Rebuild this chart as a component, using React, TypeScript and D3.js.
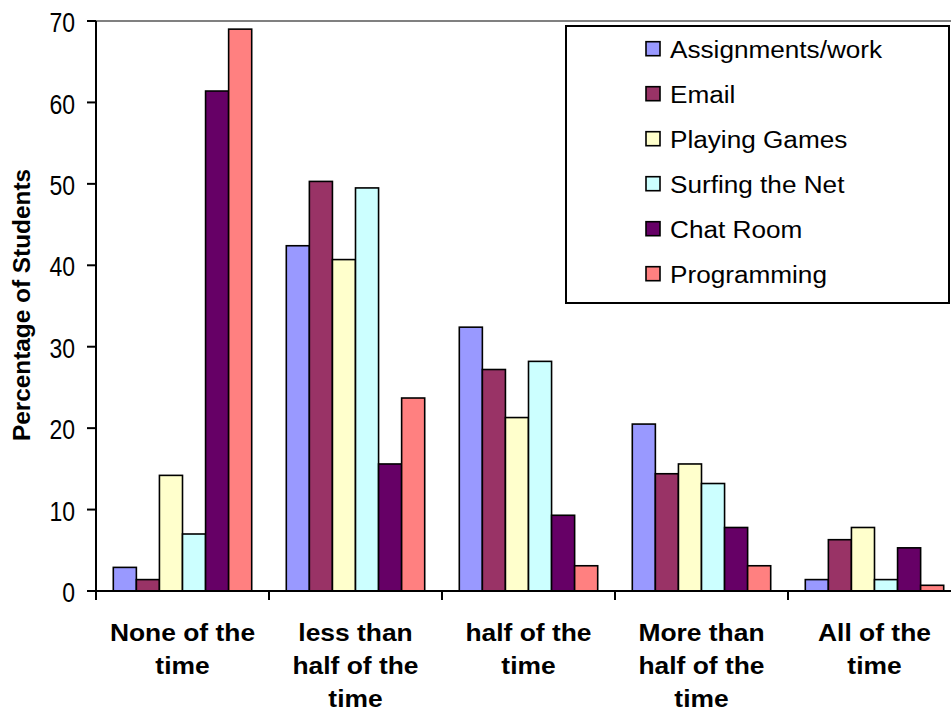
import React from "react";
import * as d3 from "d3";

// Survey: how often students use the computer for each activity
const categories: string[][] = [
  ["None of the", "time"],
  ["less than", "half of the", "time"],
  ["half of the", "time"],
  ["More than", "half of the", "time"],
  ["All of the", "time"],
];

const seriesNames = [
  "Assignments/work",
  "Email",
  "Playing Games",
  "Surfing the Net",
  "Chat Room",
  "Programming",
];

const assignments = [2.9, 42.4, 32.4, 20.5, 1.4];
const email = [1.4, 50.3, 27.2, 14.4, 6.3];
const games = [14.2, 40.7, 21.3, 15.6, 7.8];
const surfing = [7.0, 49.5, 28.2, 13.2, 1.4];
const chatRoom = [61.4, 15.6, 9.3, 7.8, 5.3];
const programming = [69.0, 23.7, 3.1, 3.1, 0.7];

const seriesValues = [assignments, email, games, surfing, chatRoom, programming];
const seriesColors = ["#9999FF", "#993366", "#FFFFCC", "#CCFFFF", "#660066", "#FF8080"];

const yTicks = [0, 10, 20, 30, 40, 50, 60, 70];
const yTitle = "Percentage of Students";

const W = 951;
const H = 711;
const plot = { left: 96, right: 961, top: 21, bottom: 591 };
const FONT = "'Liberation Sans', Arial, sans-serif";

export default function App() {
  const catKeys = categories.map((_, i) => String(i));
  const x0 = d3
    .scaleBand<string>()
    .domain(catKeys)
    .range([plot.left, plot.right])
    .padding(0);
  const x1 = d3
    .scaleBand<string>()
    .domain(seriesNames)
    .range([0, x0.bandwidth()])
    .paddingInner(0)
    .paddingOuter(0.75);
  const y = d3.scaleLinear().domain([0, 70]).range([plot.bottom, plot.top]);

  const legend = { x: 566, y: 26, w: 383, h: 277 };
  const legendRow = 45;

  return (
    <div style={{ position: "absolute", left: 0, top: 0, width: W, height: H, overflow: "hidden", background: "#fff" }}>
      <svg width={W} height={H} style={{ display: "block" }}>
        {/* plot area frame */}
        <rect
          x={plot.left}
          y={plot.top}
          width={plot.right - plot.left}
          height={plot.bottom - plot.top}
          fill="none"
          stroke="#808080"
          strokeWidth={2}
        />

        {/* bars */}
        {seriesNames.map((name, si) =>
          seriesValues[si].map((v, ci) => {
            const bx = (x0(String(ci)) ?? 0) + (x1(name) ?? 0);
            return (
              <rect
                key={`${si}-${ci}`}
                x={bx}
                y={y(v)}
                width={x1.bandwidth()}
                height={y(0) - y(v)}
                fill={seriesColors[si]}
                stroke="#000"
                strokeWidth={1.6}
              />
            );
          })
        )}

        {/* y axis */}
        <line x1={plot.left} x2={plot.left} y1={plot.top} y2={plot.bottom} stroke="#000" strokeWidth={2} />
        {yTicks.map((t) => (
          <g key={t}>
            <line x1={plot.left - 9} x2={plot.left} y1={y(t)} y2={y(t)} stroke="#000" strokeWidth={2} />
            <text
              transform={`translate(75,${y(t) + 1.5}) scale(1,1.17)`}
              dy="0.36em"
              textAnchor="end"
              fontFamily={FONT}
              fontSize={23}
              fill="#000"
            >
              {t}
            </text>
          </g>
        ))}

        {/* x axis */}
        <line x1={plot.left} x2={plot.right} y1={plot.bottom} y2={plot.bottom} stroke="#000" strokeWidth={2} />
        {catKeys.map((k) => (
          <line
            key={k}
            x1={x0(k) ?? 0}
            x2={x0(k) ?? 0}
            y1={plot.bottom}
            y2={plot.bottom + 9}
            stroke="#000"
            strokeWidth={2}
          />
        ))}
        {categories.map((lines, ci) => {
          const cx = (x0(String(ci)) ?? 0) + x0.bandwidth() / 2;
          return (
            <g key={ci} transform={`translate(${cx},0) scale(1.1,1)`}>
              <text textAnchor="middle" fontFamily={FONT} fontWeight="bold" fontSize={24} fill="#000">
                {lines.map((ln, li) => (
                  <tspan key={li} x={0} y={641 + li * 33}>
                    {ln}
                  </tspan>
                ))}
              </text>
            </g>
          );
        })}

        {/* y axis title */}
        <text
          transform={`translate(30,305) rotate(-90) scale(1.06,1)`}
          textAnchor="middle"
          fontFamily={FONT}
          fontWeight="bold"
          fontSize={23}
          fill="#000"
        >
          {yTitle}
        </text>

        {/* legend */}
        <rect x={legend.x} y={legend.y} width={legend.w} height={legend.h} fill="#fff" stroke="#000" strokeWidth={2} />
        {seriesNames.map((name, si) => {
          const base = 58.3 + si * legendRow;
          return (
            <g key={name}>
              <rect
                x={646}
                y={base - 16.6}
                width={14}
                height={14}
                fill={seriesColors[si]}
                stroke="#000"
                strokeWidth={1.6}
              />
              <text
                transform={`translate(670,${base}) scale(1.09,1.03)`}
                fontFamily={FONT}
                fontSize={24}
                fill="#000"
              >
                {name}
              </text>
            </g>
          );
        })}
      </svg>
    </div>
  );
}
